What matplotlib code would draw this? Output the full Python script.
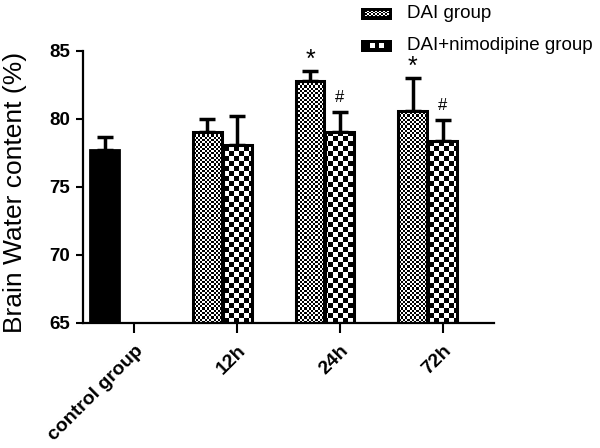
import numpy as np
import matplotlib
matplotlib.use("Agg")
import matplotlib.pyplot as plt
from matplotlib.patches import FancyBboxPatch

plt.rcParams['font.family'] = ['Liberation Sans', 'DejaVu Sans']

# Data (brain water content, %)
groups = ["control group", "12h", "24h", "72h"]
control_mean = 77.7
control_err = 0.95
dai_mean = [79.0, 82.8, 80.6]
dai_err = [1.0, 0.7, 2.4]
nimo_mean = [78.1, 79.0, 78.4]
nimo_err = [2.1, 1.5, 1.5]
dai_marks = ["", "*", "*"]
nimo_marks = ["", "#", "#"]

W, H, DPI = 600, 448, 100
fig = plt.figure(figsize=(W / DPI, H / DPI), dpi=DPI)
ax = fig.add_axes([83 / W, 1 - 323 / H, (494 - 83) / W, (323 - 50.7) / H])
ax.set_xlim(-0.5, 3.5)
ax.set_ylim(65, 85)

width = 0.28
off_dai = -0.29
off_nimo = 0.0
x_grp = np.arange(1, 4)


def checker(ax, patch, cell_px):
    # fill a bar with a black/white checkerboard clipped to its outline
    bbox = ax.get_window_extent()
    nx = int(bbox.width / cell_px)
    ny = int(bbox.height / cell_px)
    ii, jj = np.indices((ny, nx))
    img = (ii + jj) % 2
    x0, x1 = ax.get_xlim()
    y0, y1 = ax.get_ylim()
    im = ax.imshow(img, cmap="gray", extent=(x0, x1, y0, y1), aspect="auto",
                   interpolation="nearest", zorder=1.5, origin="lower")
    im.set_clip_path(patch)


# control bar
ax.bar([off_dai], [control_mean - 65], bottom=65, width=width,
       color="black", edgecolor="black", linewidth=2, zorder=2)
ax.errorbar([off_dai], [control_mean], yerr=[[0], [control_err]], fmt="none",
            ecolor="black", elinewidth=2.5, capsize=6, capthick=2.5, zorder=1)

bd = ax.bar(x_grp + off_dai, np.array(dai_mean) - 65, bottom=65, width=width,
            facecolor="none", edgecolor="black", linewidth=2.2, zorder=2)
bn = ax.bar(x_grp + off_nimo, np.array(nimo_mean) - 65, bottom=65, width=width,
            facecolor="none", edgecolor="black", linewidth=2.2, zorder=2)
fig.canvas.draw()
for p in bd.patches:
    checker(ax, p, 2.2)
for p in bn.patches:
    checker(ax, p, 5)
ax.set_xlim(-0.5, 3.5)
ax.set_ylim(65, 85)

ax.errorbar(x_grp + off_dai, dai_mean, yerr=[np.zeros(3), dai_err], fmt="none",
            ecolor="black", elinewidth=2.5, capsize=6, capthick=2.5, zorder=1)
ax.errorbar(x_grp + off_nimo, nimo_mean, yerr=[np.zeros(3), nimo_err], fmt="none",
            ecolor="black", elinewidth=2.5, capsize=6, capthick=2.5, zorder=1)

for x, m, e, s in zip(x_grp + off_dai, dai_mean, dai_err, dai_marks):
    if s:
        ax.text(x, m + e - 0.05, s, ha="center", va="bottom", fontsize=18)
for x, m, e, s in zip(x_grp + off_nimo, nimo_mean, nimo_err, nimo_marks):
    if s:
        ax.text(x, m + e + 0.5, s, ha="center", va="bottom", fontsize=12)

ax.spines["top"].set_visible(False)
ax.spines["right"].set_visible(False)
ax.spines["left"].set_linewidth(1.6)
ax.spines["bottom"].set_linewidth(1.6)
ax.set_yticks([65, 70, 75, 80, 85])
ax.set_xticks(np.arange(4) + 0.0)
ax.set_xticklabels(groups, rotation=45, ha="right", rotation_mode="anchor",
                   fontweight="bold", fontsize=14)
for lab in ax.get_yticklabels():
    lab.set_fontweight("bold")
ax.tick_params(axis="y", labelsize=13.5, width=1.5, length=5, pad=4)
ax.tick_params(axis="x", width=1.5, length=7, pad=7)
ax.set_ylabel("Brain Water content (%)", fontsize=19)
ax.yaxis.set_label_coords(-56 / 411, 0.5 - 6 / 272)

# legend
labels = ["DAI group", "DAI+nimodipine group"]
cells = [2, 4.5]
for k, (lab, c) in enumerate(zip(labels, cells)):
    yc = 14 + 32 * k
    sw = fig.add_axes([361 / W, 1 - (yc + 6) / H, 31 / W, 12 / H])
    sw.set_xlim(0, 1)
    sw.set_ylim(0, 1)
    sw.axis("off")
    box = FancyBboxPatch((0.08, 0.15), 0.84, 0.7, boxstyle="round,pad=0.05",
                         facecolor="black", edgecolor="black", linewidth=2.5)
    sw.add_patch(box)
    n = int(24 / c)
    ii, jj = np.indices((max(int(8 / c), 1), n))
    sw.imshow((ii + jj) % 2, cmap="gray", extent=(0.12, 0.88, 0.3, 0.7),
              aspect="auto", interpolation="nearest", zorder=3)
    fig.text(407 / W, 1 - yc / H, lab, fontsize=13.5, va="center", ha="left")

fig.savefig("out.png", dpi=DPI)
